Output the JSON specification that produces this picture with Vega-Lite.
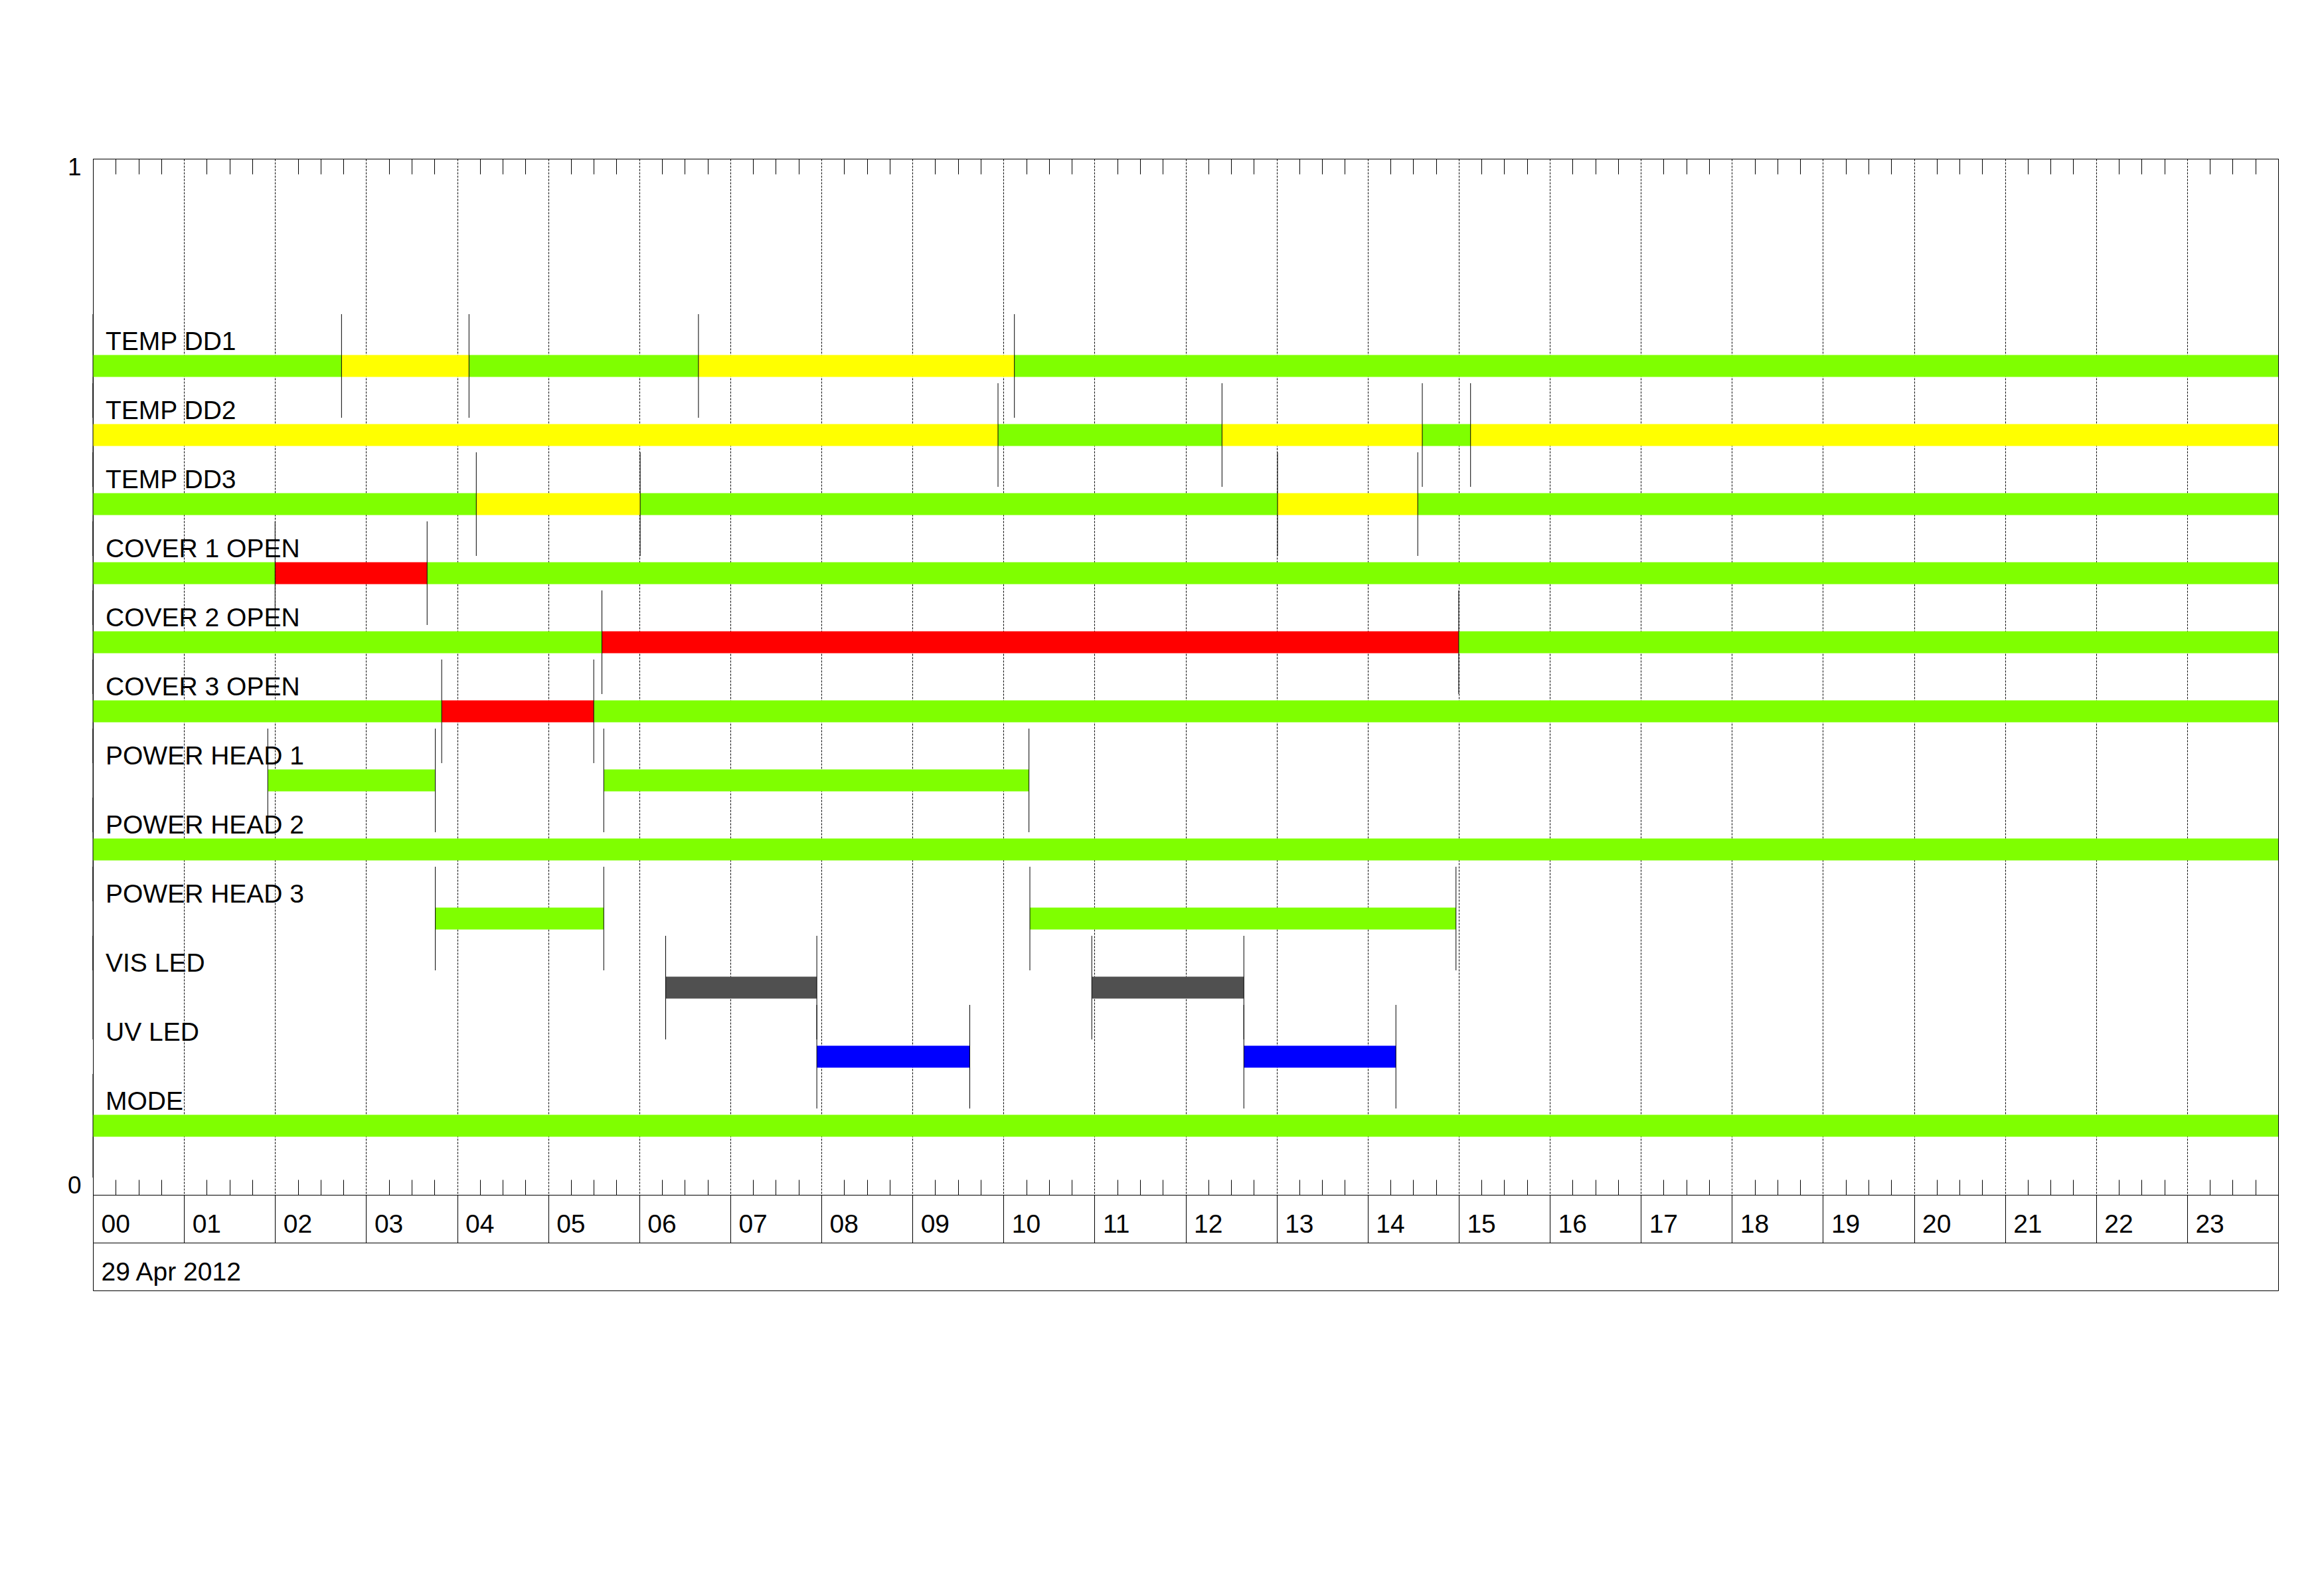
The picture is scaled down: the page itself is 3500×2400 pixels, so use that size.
{
  "$schema": "https://vega.github.io/schema/vega-lite/v6.json",
  "width": 3291,
  "height": 1560,
  "autosize": {"type": "none"},
  "padding": {"left": 140, "top": 239, "right": 69, "bottom": 601},
  "background": "white",
  "config": {
    "view": {"stroke": "black", "strokeWidth": 1},
    "axis": {"labelFont": "Liberation Sans", "labelColor": "black", "tickColor": "black", "domainColor": "black", "tickWidth": 1, "domainWidth": 1, "labelLimit": 0}
  },
  "datasets": {
    "segments": [
      {"row": 12, "name": "TEMP DD1", "start": 0, "end": 2.73, "state": "ok"},
      {"row": 12, "name": "TEMP DD1", "start": 2.73, "end": 4.13, "state": "warn"},
      {"row": 12, "name": "TEMP DD1", "start": 4.13, "end": 6.65, "state": "ok"},
      {"row": 12, "name": "TEMP DD1", "start": 6.65, "end": 10.12, "state": "warn"},
      {"row": 12, "name": "TEMP DD1", "start": 10.12, "end": 24, "state": "ok"},
      {"row": 11, "name": "TEMP DD2", "start": 0, "end": 9.94, "state": "warn"},
      {"row": 11, "name": "TEMP DD2", "start": 9.94, "end": 12.4, "state": "ok"},
      {"row": 11, "name": "TEMP DD2", "start": 12.4, "end": 14.6, "state": "warn"},
      {"row": 11, "name": "TEMP DD2", "start": 14.6, "end": 15.13, "state": "ok"},
      {"row": 11, "name": "TEMP DD2", "start": 15.13, "end": 24, "state": "warn"},
      {"row": 10, "name": "TEMP DD3", "start": 0, "end": 4.21, "state": "ok"},
      {"row": 10, "name": "TEMP DD3", "start": 4.21, "end": 6.01, "state": "warn"},
      {"row": 10, "name": "TEMP DD3", "start": 6.01, "end": 13.01, "state": "ok"},
      {"row": 10, "name": "TEMP DD3", "start": 13.01, "end": 14.55, "state": "warn"},
      {"row": 10, "name": "TEMP DD3", "start": 14.55, "end": 24, "state": "ok"},
      {"row": 9, "name": "COVER 1 OPEN", "start": 0, "end": 2.0, "state": "ok"},
      {"row": 9, "name": "COVER 1 OPEN", "start": 2.0, "end": 3.67, "state": "alarm"},
      {"row": 9, "name": "COVER 1 OPEN", "start": 3.67, "end": 24, "state": "ok"},
      {"row": 8, "name": "COVER 2 OPEN", "start": 0, "end": 5.59, "state": "ok"},
      {"row": 8, "name": "COVER 2 OPEN", "start": 5.59, "end": 15.0, "state": "alarm"},
      {"row": 8, "name": "COVER 2 OPEN", "start": 15.0, "end": 24, "state": "ok"},
      {"row": 7, "name": "COVER 3 OPEN", "start": 0, "end": 3.83, "state": "ok"},
      {"row": 7, "name": "COVER 3 OPEN", "start": 3.83, "end": 5.5, "state": "alarm"},
      {"row": 7, "name": "COVER 3 OPEN", "start": 5.5, "end": 24, "state": "ok"},
      {"row": 6, "name": "POWER HEAD 1", "start": 1.92, "end": 3.76, "state": "ok"},
      {"row": 6, "name": "POWER HEAD 1", "start": 5.61, "end": 10.28, "state": "ok"},
      {"row": 5, "name": "POWER HEAD 2", "start": 0, "end": 24, "state": "ok"},
      {"row": 4, "name": "POWER HEAD 3", "start": 3.76, "end": 5.61, "state": "ok"},
      {"row": 4, "name": "POWER HEAD 3", "start": 10.29, "end": 14.97, "state": "ok"},
      {"row": 3, "name": "VIS LED", "start": 6.29, "end": 7.95, "state": "vis"},
      {"row": 3, "name": "VIS LED", "start": 10.97, "end": 12.64, "state": "vis"},
      {"row": 2, "name": "UV LED", "start": 7.95, "end": 9.63, "state": "uv"},
      {"row": 2, "name": "UV LED", "start": 12.64, "end": 14.31, "state": "uv"},
      {"row": 1, "name": "MODE", "start": 0, "end": 24, "state": "ok"}
    ],
    "markers": [
      {"row": 12, "t": 0}, {"row": 12, "t": 2.73}, {"row": 12, "t": 4.13}, {"row": 12, "t": 6.65}, {"row": 12, "t": 10.12},
      {"row": 11, "t": 0}, {"row": 11, "t": 9.94}, {"row": 11, "t": 12.4}, {"row": 11, "t": 14.6}, {"row": 11, "t": 15.13},
      {"row": 10, "t": 0}, {"row": 10, "t": 4.21}, {"row": 10, "t": 6.01}, {"row": 10, "t": 13.01}, {"row": 10, "t": 14.55},
      {"row": 9, "t": 0}, {"row": 9, "t": 2.0}, {"row": 9, "t": 3.67},
      {"row": 8, "t": 0}, {"row": 8, "t": 5.59}, {"row": 8, "t": 15.0},
      {"row": 7, "t": 0}, {"row": 7, "t": 3.83}, {"row": 7, "t": 5.5},
      {"row": 6, "t": 0}, {"row": 6, "t": 1.92}, {"row": 6, "t": 3.76}, {"row": 6, "t": 5.61}, {"row": 6, "t": 10.28},
      {"row": 5, "t": 0},
      {"row": 4, "t": 0}, {"row": 4, "t": 3.76}, {"row": 4, "t": 5.61}, {"row": 4, "t": 10.29}, {"row": 4, "t": 14.97},
      {"row": 3, "t": 0}, {"row": 3, "t": 6.29}, {"row": 3, "t": 7.95}, {"row": 3, "t": 10.97}, {"row": 3, "t": 12.64},
      {"row": 2, "t": 7.95}, {"row": 2, "t": 9.63}, {"row": 2, "t": 12.64}, {"row": 2, "t": 14.31},
      {"row": 1, "t": 0}
    ],
    "labels": [
      {"row": 12, "name": "TEMP DD1"},
      {"row": 11, "name": "TEMP DD2"},
      {"row": 10, "name": "TEMP DD3"},
      {"row": 9, "name": "COVER 1 OPEN"},
      {"row": 8, "name": "COVER 2 OPEN"},
      {"row": 7, "name": "COVER 3 OPEN"},
      {"row": 6, "name": "POWER HEAD 1"},
      {"row": 5, "name": "POWER HEAD 2"},
      {"row": 4, "name": "POWER HEAD 3"},
      {"row": 3, "name": "VIS LED"},
      {"row": 2, "name": "UV LED"},
      {"row": 1, "name": "MODE"}
    ]
  },
  "resolve": {"axis": {"x": "independent", "y": "independent"}},
  "layer": [
    {
      "data": {"name": "segments"},
      "mark": {"type": "rule", "strokeWidth": 33, "strokeCap": "butt"},
      "encoding": {
        "x": {
          "field": "start", "type": "quantitative",
          "scale": {"domain": [0, 24], "nice": false, "zero": false},
          "axis": {
            "orient": "bottom", "title": null,
            "values": [0,1,2,3,4,5,6,7,8,9,10,11,12,13,14,15,16,17,18,19,20,21,22,23,24],
            "domain": true, "ticks": true, "tickSize": 72,
            "labelExpr": "datum.value < 10 ? '0' + datum.value : (datum.value < 24 ? '' + datum.value : '')",
            "labelAlign": "left", "labelBaseline": "alphabetic", "labelPadding": -16, "labelOffset": 12,
            "labelFontSize": 39, "labelFlush": false, "labelOverlap": false, "labelBound": false,
            "grid": true, "gridColor": "black", "gridDash": [3, 2], "gridWidth": 1, "gridOpacity": 1
          }
        },
        "x2": {"field": "end"},
        "y": {
          "field": "row", "type": "quantitative",
          "scale": {"domain": [0, 15], "nice": false, "zero": false},
          "axis": null
        },
        "color": {
          "field": "state", "type": "nominal",
          "scale": {"domain": ["ok", "warn", "alarm", "vis", "uv"], "range": ["#7FFF00", "#FFFF00", "#FF0000", "#505050", "#0000FF"]},
          "legend": null
        }
      }
    },
    {
      "data": {"name": "markers"},
      "mark": {"type": "tick", "orient": "vertical", "size": 156, "thickness": 1, "color": "black", "opacity": 1},
      "encoding": {
        "x": {
          "field": "t", "type": "quantitative",
          "axis": {
            "orient": "top", "title": null,
            "values": [0.25,0.5,0.75,1.25,1.5,1.75,2.25,2.5,2.75,3.25,3.5,3.75,4.25,4.5,4.75,5.25,5.5,5.75,6.25,6.5,6.75,7.25,7.5,7.75,8.25,8.5,8.75,9.25,9.5,9.75,10.25,10.5,10.75,11.25,11.5,11.75,12.25,12.5,12.75,13.25,13.5,13.75,14.25,14.5,14.75,15.25,15.5,15.75,16.25,16.5,16.75,17.25,17.5,17.75,18.25,18.5,18.75,19.25,19.5,19.75,20.25,20.5,20.75,21.25,21.5,21.75,22.25,22.5,22.75,23.25,23.5,23.75],
            "domain": true, "ticks": true, "tickSize": -23, "labels": false, "grid": false
          }
        },
        "y": {
          "field": "row", "type": "quantitative",
          "axis": {
            "orient": "left", "title": null, "values": [0, 15],
            "labelExpr": "datum.value == 0 ? '0' : '1'",
            "labels": true, "labelFlush": true, "labelFlushOffset": 5, "ticks": true, "tickSize": 0, "tickOpacity": 0, "domain": false, "grid": false,
            "labelPadding": 18, "labelFontSize": 37, "labelColor": "black", "labelOpacity": 1, "labelOverlap": false, "labelBound": false
          }
        }
      }
    },
    {
      "data": {"name": "labels"},
      "mark": {"type": "text", "align": "left", "baseline": "alphabetic", "dx": 19, "dy": -24, "font": "Liberation Sans", "fontSize": 39, "color": "black"},
      "encoding": {
        "x": {"datum": 0, "type": "quantitative", "axis": null},
        "y": {"field": "row", "type": "quantitative", "axis": null},
        "text": {"field": "name"}
      }
    },
    {
      "data": {"name": "segments"},
      "mark": {"type": "point", "opacity": 0, "size": 0},
      "encoding": {
        "x": {
          "field": "start", "type": "quantitative",
          "axis": {
            "orient": "bottom", "title": null,
            "values": [0.25,0.5,0.75,1.25,1.5,1.75,2.25,2.5,2.75,3.25,3.5,3.75,4.25,4.5,4.75,5.25,5.5,5.75,6.25,6.5,6.75,7.25,7.5,7.75,8.25,8.5,8.75,9.25,9.5,9.75,10.25,10.5,10.75,11.25,11.5,11.75,12.25,12.5,12.75,13.25,13.5,13.75,14.25,14.5,14.75,15.25,15.5,15.75,16.25,16.5,16.75,17.25,17.5,17.75,18.25,18.5,18.75,19.25,19.5,19.75,20.25,20.5,20.75,21.25,21.5,21.75,22.25,22.5,22.75,23.25,23.5,23.75],
            "domain": false, "ticks": true, "tickSize": -23, "labels": false, "grid": false
          }
        },
        "y": {"field": "row", "type": "quantitative", "axis": null}
      }
    },
    {
      "data": {"name": "segments"},
      "mark": {"type": "point", "opacity": 0, "size": 0},
      "encoding": {
        "x": {
          "field": "start", "type": "quantitative",
          "axis": {
            "orient": "bottom", "title": null, "offset": 72,
            "values": [0, 24],
            "domain": true, "ticks": true, "tickSize": 72,
            "labelExpr": "datum.value == 0 ? '29 Apr 2012' : ''",
            "labelAlign": "left", "labelBaseline": "alphabetic", "labelPadding": -16, "labelOffset": 12,
            "labelFontSize": 39, "labelFlush": false, "labelOverlap": false, "labelBound": false, "labelLimit": 0,
            "grid": false
          }
        },
        "y": {"field": "row", "type": "quantitative", "axis": null}
      }
    },
    {
      "data": {"name": "segments"},
      "mark": {"type": "point", "opacity": 0, "size": 0},
      "encoding": {
        "x": {
          "field": "start", "type": "quantitative",
          "axis": {
            "orient": "bottom", "title": null, "offset": 144,
            "values": [0, 24],
            "domain": true, "ticks": false, "labels": false, "grid": false
          }
        },
        "y": {"field": "row", "type": "quantitative", "axis": null}
      }
    }
  ]
}
